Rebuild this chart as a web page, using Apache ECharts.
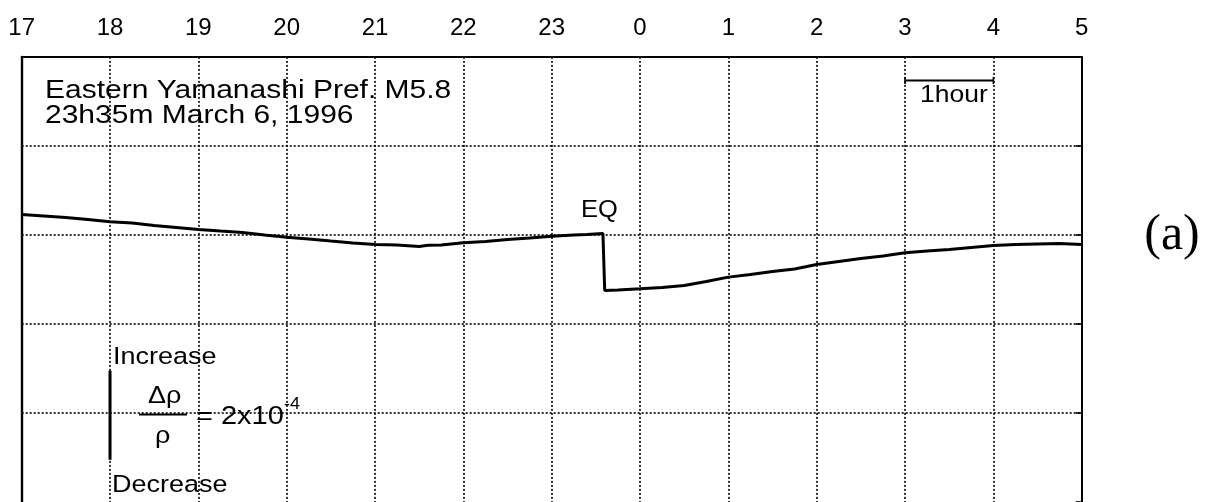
<!DOCTYPE html>
<html>
<head>
<meta charset="utf-8">
<script src="https://cdn.jsdelivr.net/npm/echarts@6/dist/echarts.min.js"></script>
<style>
  html, body { margin: 0; padding: 0; background: #fff; }
  #chart { width: 1211px; height: 502px; }
</style>
</head>
<body>
<div id="chart"></div>
<script>
// Hour axis: 17:00 on March 6 through 05:00 on March 7 (hours past midnight of the 6th)
const hourTicks  = [17, 18, 19, 20, 21, 22, 23, 24, 25, 26, 27, 28, 29];
const hourLabels = ['17', '18', '19', '20', '21', '22', '23', '0', '1', '2', '3', '4', '5'];

// Resistivity change record, Δρ/ρ in units of 1e-4
const hours = [
  17.0, 17.25, 17.5, 17.75, 18.0, 18.25, 18.5, 18.75, 19.0, 19.25, 19.5, 19.75,
  20.0, 20.25, 20.5, 20.75, 21.0, 21.25, 21.5, 21.6, 21.75, 22.0, 22.25, 22.5,
  22.75, 23.0, 23.25, 23.4, 23.58, 23.6, 23.75, 24.0, 24.25, 24.5, 24.75, 25.0,
  25.25, 25.5, 25.75, 26.0, 26.25, 26.5, 26.75, 27.0, 27.25, 27.5, 27.75, 28.0,
  28.25, 28.5, 28.75, 29.0
];
const ratio = [
  0.457, 0.424, 0.39, 0.345, 0.294, 0.267, 0.21, 0.166, 0.121, 0.087, 0.054, -0.002,
  -0.05, -0.092, -0.137, -0.18, -0.215, -0.226, -0.26, -0.233, -0.226, -0.177, -0.148, -0.103,
  -0.069, -0.029, -0.002, 0.009, 0.031, -1.246, -1.235, -1.208, -1.179, -1.134, -1.044, -0.948,
  -0.888, -0.82, -0.764, -0.663, -0.596, -0.529, -0.473, -0.401, -0.361, -0.327, -0.282, -0.238,
  -0.215, -0.204, -0.193, -0.215
];

// Scale bars: one hour along time, 2e-4 along resistivity
const hourBar  = { from: 27, to: 28, level: 3.467 };
const ratioBar = { at: 18, from: -3.05, to: -5.05 };

const SANS = '"Liberation Sans", Arial, Helvetica, sans-serif';
const SERIF = '"Liberation Serif", "Times New Roman", serif';

const chart = echarts.init(document.getElementById('chart'), null, { renderer: 'canvas' });

const dotted = { color: '#000', width: 1.6, type: [2, 2] };

function label(x, y, text, size, extra) {
  return Object.assign({
    type: 'text', x: x, y: y, silent: true,
    style: {
      text: text, x: 0, y: 0, fill: '#000',
      font: size + 'px ' + SANS, textVerticalAlign: 'middle'
    }
  }, extra || {});
}

chart.setOption({
  animation: false,
  backgroundColor: '#fff',
  grid: { left: 21.7, right: 129.3, top: 56.9, bottom: -1.1, containLabel: false },
  xAxis: {
    type: 'value', position: 'top', min: 17, max: 29, interval: 1,
    axisLine: { show: true, onZero: false, lineStyle: { color: '#000', width: 2 } },
    axisTick: { show: false },
    axisLabel: {
      show: true, margin: 17, color: '#000', fontSize: 24, fontFamily: SANS,
      formatter: v => hourLabels[hourTicks.indexOf(v)]
    },
    splitLine: { show: true, showMinLine: false, showMaxLine: false, lineStyle: dotted }
  },
  yAxis: [
    {
      type: 'value', min: -6, max: 4, interval: 2,
      axisLine: { show: true, onZero: false, lineStyle: { color: '#000', width: 2.4 } },
      axisTick: { show: false }, axisLabel: { show: false },
      splitLine: { show: true, showMinLine: false, showMaxLine: false, lineStyle: dotted }
    },
    {
      type: 'value', min: -6, max: 4, interval: 2, position: 'right',
      axisLine: { show: true, onZero: false, lineStyle: { color: '#000', width: 2 } },
      axisTick: { show: true, inside: true, length: 6, lineStyle: { color: '#000', width: 1.6 } },
      axisLabel: { show: false }, splitLine: { show: false }
    }
  ],
  series: [
    {
      type: 'line', name: 'resistivity', yAxisIndex: 0,
      data: hours.map((h, i) => [h, ratio[i]]),
      showSymbol: false, symbol: 'none',
      lineStyle: { color: '#000', width: 3 }
    },
    {
      type: 'line', name: 'hour bar', yAxisIndex: 0,
      data: [[hourBar.from, hourBar.level], [hourBar.to, hourBar.level]],
      symbol: 'rect', symbolSize: [1.6, 7], showSymbol: true,
      itemStyle: { color: '#000' },
      lineStyle: { color: '#000', width: 2 }
    },
    {
      type: 'line', name: 'ratio bar', yAxisIndex: 0,
      data: [[ratioBar.at, ratioBar.from], [ratioBar.at, ratioBar.to]],
      symbol: 'none',
      lineStyle: { color: '#000', width: 3 }
    }
  ],
  graphic: [
    label(45, 91, 'Eastern Yamanashi Pref. M5.8', 30, { scaleY: 0.88 }),
    label(45, 116, '23h35m March 6, 1996', 30, { scaleY: 0.88 }),
    label(920, 96, '1hour', 26.5, { scaleY: 0.88 }),
    label(581, 211, 'EQ', 25.5, { scaleY: 0.92 }),
    label(113, 357, 'Increase', 27, { scaleY: 0.9 }),
    label(112, 485, 'Decrease', 27, { scaleY: 0.9 }),
    label(148, 396, 'Δρ', 27, { scaleY: 0.9 }),
    {
      type: 'line', silent: true,
      shape: { x1: 139, y1: 414.5, x2: 187, y2: 414.5 },
      style: { stroke: '#000', lineWidth: 2 }
    },
    label(155, 436, 'ρ', 27, { scaleY: 0.9 }),
    label(196, 417, '= 2x10', 29, { scaleY: 0.88 }),
    label(284, 405, '-4', 18, { scaleY: 0.9 }),
    {
      type: 'text', x: 1172, y: 236, silent: true,
      style: {
        text: '(a)', x: 0, y: 0, fill: '#000', font: '50px ' + SERIF,
        textAlign: 'center', textVerticalAlign: 'middle'
      }
    }
  ]
});
</script>
</body>
</html>
